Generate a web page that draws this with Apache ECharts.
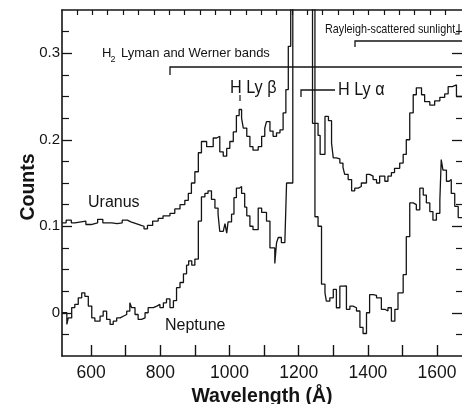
<!DOCTYPE html>
<html>
<head>
<meta charset="utf-8">
<script src="https://cdn.jsdelivr.net/npm/echarts@6/dist/echarts.min.js"></script>
<style>
html,body{margin:0;padding:0;background:#fff;}
#chart{width:462px;height:404px;}
</style>
</head>
<body>
<div id="chart"></div>
<script>
// ---- Data ----
// Step-histogram channels: left edge wavelength (Å) and counts; last entry closes the final step.
// Values of 0.5 stand for the off-scale H Ly-alpha peak (clipped at the top of the frame).
const uranusWavelength = [516, 528, 543, 553, 585, 600, 619, 634, 660, 675, 690, 705, 715, 730, 745, 753, 763, 778, 794, 808, 828, 842, 857, 871, 881, 890, 900, 910, 919, 934, 953, 963, 972, 982, 992, 1001, 1011, 1020, 1028, 1035, 1040, 1050, 1059, 1068, 1083, 1093, 1102, 1107, 1117, 1126, 1136, 1146, 1155, 1163, 1170, 1177, 1240, 1256, 1262, 1276, 1286, 1295, 1300, 1309, 1319, 1328, 1333, 1343, 1353, 1362, 1372, 1381, 1396, 1405, 1415, 1425, 1434, 1449, 1458, 1468, 1477, 1492, 1502, 1511, 1521, 1531, 1540, 1555, 1564, 1579, 1593, 1608, 1622, 1632, 1644, 1656, 1672];
const uranusCounts = [0.104, 0.107, 0.104, 0.106, 0.102, 0.104, 0.108, 0.104, 0.103, 0.104, 0.107, 0.105, 0.103, 0.101, 0.100, 0.097, 0.101, 0.106, 0.109, 0.112, 0.115, 0.120, 0.125, 0.130, 0.138, 0.150, 0.163, 0.185, 0.198, 0.192, 0.202, 0.204, 0.186, 0.181, 0.190, 0.198, 0.209, 0.228, 0.235, 0.225, 0.2135, 0.204, 0.192, 0.188, 0.192, 0.204, 0.2135, 0.221, 0.210, 0.204, 0.208, 0.2115, 0.231, 0.258, 0.308, 0.5, 0.219, 0.205, 0.183, 0.227, 0.222, 0.196, 0.179, 0.178, 0.173, 0.168, 0.160, 0.154, 0.141, 0.144, 0.146, 0.150, 0.160, 0.158, 0.154, 0.150, 0.158, 0.152, 0.158, 0.162, 0.167, 0.173, 0.183, 0.200, 0.231, 0.252, 0.260, 0.252, 0.244, 0.240, 0.245, 0.249, 0.253, 0.2615, 0.2634, 0.250, 0.250];

const neptuneWavelength = [516, 530, 534, 544, 553, 563, 573, 582, 592, 602, 611, 626, 635, 645, 655, 664, 674, 684, 693, 703, 712, 717, 727, 736, 746, 756, 765, 780, 790, 799, 809, 818, 828, 838, 847, 857, 867, 876, 882, 891, 900, 910, 919, 929, 938, 948, 958, 967, 972, 982, 987, 992, 996, 1006, 1013, 1020, 1028, 1035, 1044, 1050, 1059, 1068, 1083, 1093, 1107, 1117, 1131, 1136, 1141, 1150, 1160, 1165, 1183, 1247, 1256, 1266, 1276, 1280, 1290, 1300, 1309, 1319, 1328, 1338, 1348, 1357, 1367, 1377, 1386, 1396, 1405, 1415, 1425, 1439, 1449, 1458, 1468, 1478, 1487, 1502, 1511, 1521, 1531, 1540, 1550, 1560, 1569, 1579, 1588, 1598, 1608, 1612, 1617, 1627, 1635, 1641, 1651, 1661, 1672];
const neptuneCounts = [0.0, -0.0135, -0.006, 0.006, 0.0096, 0.0173, 0.023, 0.019, 0.0077, -0.006, -0.0097, -0.004, 0.0018, -0.0077, -0.0135, -0.0097, -0.006, -0.004, -0.002, 0.0018, 0.0115, 0.006, -0.002, -0.0077, -0.006, 0.0, 0.006, 0.0077, 0.0096, 0.006, 0.0115, 0.016, 0.006, 0.014, 0.029, 0.035, 0.045, 0.055, 0.060, 0.055, 0.062, 0.106, 0.134, 0.138, 0.141, 0.131, 0.121, 0.114, 0.094, 0.092, 0.103, 0.092, 0.105, 0.114, 0.133, 0.144, 0.146, 0.138, 0.122, 0.112, 0.100, 0.096, 0.121, 0.116, 0.106, 0.075, 0.057, 0.081, 0.087, 0.081, 0.080, 0.150, 0.5, 0.111, 0.100, 0.033, 0.023, 0.0134, 0.0173, 0.027, 0.0058, 0.0307, 0.031, 0.004, 0.0077, 0.0058, 0.002, -0.017, -0.024, 0.0, 0.021, 0.020, 0.0173, 0.004, 0.002, 0.0058, -0.0097, 0.004, 0.023, 0.044, 0.088, 0.127, 0.125, 0.119, 0.144, 0.136, 0.127, 0.117, 0.107, 0.115, 0.130, 0.177, 0.165, 0.152, 0.154, 0.138, 0.123, 0.110, 0.110];

// Axis ticks and labels
const wavelengthTicks = [600, 700, 800, 900, 1000, 1100, 1200, 1300, 1400, 1500, 1600];
const wavelengthLabels = [600, 800, 1000, 1200, 1400, 1600];
const countLabels = [0, 0.1, 0.2, 0.3];
const countMinorTicks = [-0.025, 0.025, 0.05, 0.075, 0.125, 0.15, 0.175, 0.225, 0.25, 0.275, 0.325];

// ---- Decorative top-frame tick positions (frame units) ----
const topTicks = [];
for (let k = 1; k <= 25; k++) topTicks.push(15 + (k - 1) * 15.35);

const INK = '#141414';
const FONT = '"Liberation Sans", Arial, Helvetica, sans-serif';
const axisLine = {show: true, onZero: false, lineStyle: {color: INK, width: 1.6}};

const chart = echarts.init(document.getElementById('chart'), null, {renderer: 'canvas'});

const option = {
  animation: false,
  backgroundColor: '#ffffff',
  grid: {left: 62, right: 0, top: 10, bottom: 48, containLabel: false, outerBoundsMode: 'none'},
  xAxis: [
    {
      type: 'value', position: 'bottom', min: 516, max: 1672,
      axisLine: axisLine,
      axisTick: {show: true, inside: true, length: 11, customValues: wavelengthTicks, lineStyle: {color: INK, width: 1.4}},
      axisLabel: {customValues: wavelengthLabels, color: INK, fontSize: 17.5, fontFamily: FONT, margin: 8,
        formatter: function (v) { return String(v); }},
      splitLine: {show: false},
      name: 'Wavelength (Å)', nameLocation: 'middle', nameGap: 27,
      nameTextStyle: {color: INK, fontSize: 19.5, fontWeight: 'bold', fontFamily: FONT}
    },
    {
      type: 'value', position: 'top', min: 0, max: 400,
      axisLine: axisLine,
      axisTick: {show: true, inside: true, length: 5, customValues: topTicks, lineStyle: {color: INK, width: 1.2}},
      axisLabel: {show: false},
      splitLine: {show: false}
    }
  ],
  yAxis: [
    {
      type: 'value', position: 'left', min: -0.05, max: 0.35,
      axisLine: axisLine,
      axisTick: {show: true, inside: true, length: 10, customValues: countLabels, lineStyle: {color: INK, width: 1.3}},
      axisLabel: {
        customValues: countLabels, color: INK, fontSize: 15, fontFamily: FONT, margin: 2,
        formatter: function (v) { return v === 0 ? '0' : v.toFixed(1); }
      },
      splitLine: {show: false},
      name: 'Counts', nameLocation: 'middle', nameGap: 23, nameRotate: 90, nameMoveOverlap: false,
      nameTextStyle: {color: INK, fontSize: 19.5, fontWeight: 'bold', fontFamily: FONT, padding: [0, 8, 0, 0]}
    },
    {
      type: 'value', position: 'left', min: -0.05, max: 0.35,
      axisLine: {show: false, onZero: false},
      axisTick: {show: true, inside: true, length: 7, customValues: countMinorTicks, lineStyle: {color: INK, width: 1.2}},
      axisLabel: {show: false}, splitLine: {show: false}
    },
    {
      type: 'value', position: 'right', min: -0.05, max: 0.35,
      axisLine: {show: false, onZero: false},
      axisTick: {show: true, inside: true, length: 10, customValues: countLabels, lineStyle: {color: INK, width: 1.3}},
      axisLabel: {show: false}, splitLine: {show: false}
    },
    {
      type: 'value', position: 'right', min: -0.05, max: 0.35,
      axisLine: {show: false, onZero: false},
      axisTick: {show: true, inside: true, length: 6, customValues: countMinorTicks, lineStyle: {color: INK, width: 1.2}},
      axisLabel: {show: false}, splitLine: {show: false}
    }
  ],
  series: [
    {
      name: 'Uranus', type: 'line', step: 'end', xAxisIndex: 0, yAxisIndex: 0,
      symbol: 'none', showSymbol: false, clip: true,
      lineStyle: {color: INK, width: 1.3},
      data: uranusWavelength.map((w, i) => [w, uranusCounts[i]])
    },
    {
      name: 'Neptune', type: 'line', step: 'end', xAxisIndex: 0, yAxisIndex: 0,
      symbol: 'none', showSymbol: false, clip: true,
      lineStyle: {color: INK, width: 1.3},
      data: neptuneWavelength.map((w, i) => [w, neptuneCounts[i]])
    }
  ],
  graphic: [
    // H2 Lyman and Werner bands label + bracket
    {type: 'text', x: 102, y: 53, style: {text: 'H', fill: INK, font: '13px ' + FONT, verticalAlign: 'middle'}},
    {type: 'text', x: 110.5, y: 60, style: {text: '2', fill: INK, font: '9px ' + FONT, verticalAlign: 'middle'}},
    {type: 'text', x: 121, y: 53, style: {text: 'Lyman and Werner bands', fill: INK, font: '13px ' + FONT, verticalAlign: 'middle'}},
    {type: 'polyline', shape: {points: [[170, 75], [170, 67], [462, 67]]}, style: {stroke: INK, lineWidth: 1.3, fill: null}},
    // Rayleigh-scattered sunlight label + bracket
    {type: 'text', x: 325, y: 29, scaleX: 0.83, style: {text: 'Rayleigh-scattered sunlight', fill: INK, font: '13px ' + FONT, verticalAlign: 'middle'}},
    {type: 'polyline', shape: {points: [[355, 47], [355, 41], [462, 41]]}, style: {stroke: INK, lineWidth: 1.3, fill: null}},
    {type: 'polyline', shape: {points: [[455, 34], [459, 34], [459, 24]]}, style: {stroke: INK, lineWidth: 1.1, fill: null}},
    // H Ly beta
    {type: 'text', x: 230, y: 88, scaleX: 0.9, style: {text: 'H Ly β', fill: INK, font: '18px ' + FONT, verticalAlign: 'middle'}},
    {type: 'line', shape: {x1: 240, y1: 95, x2: 240, y2: 101}, style: {stroke: INK, lineWidth: 1.2}},
    // H Ly alpha
    {type: 'polyline', shape: {points: [[301, 97], [301, 90], [335, 90]]}, style: {stroke: INK, lineWidth: 1.3, fill: null}},
    {type: 'text', x: 338, y: 90, scaleX: 0.9, style: {text: 'H Ly α', fill: INK, font: '18px ' + FONT, verticalAlign: 'middle'}},
    // planet labels
    {type: 'text', x: 88, y: 203, style: {text: 'Uranus', fill: INK, font: '16px ' + FONT, verticalAlign: 'middle'}},
    {type: 'text', x: 165, y: 326, style: {text: 'Neptune', fill: INK, font: '16px ' + FONT, verticalAlign: 'middle'}}
  ]
};

chart.setOption(option);
</script>
</body>
</html>
